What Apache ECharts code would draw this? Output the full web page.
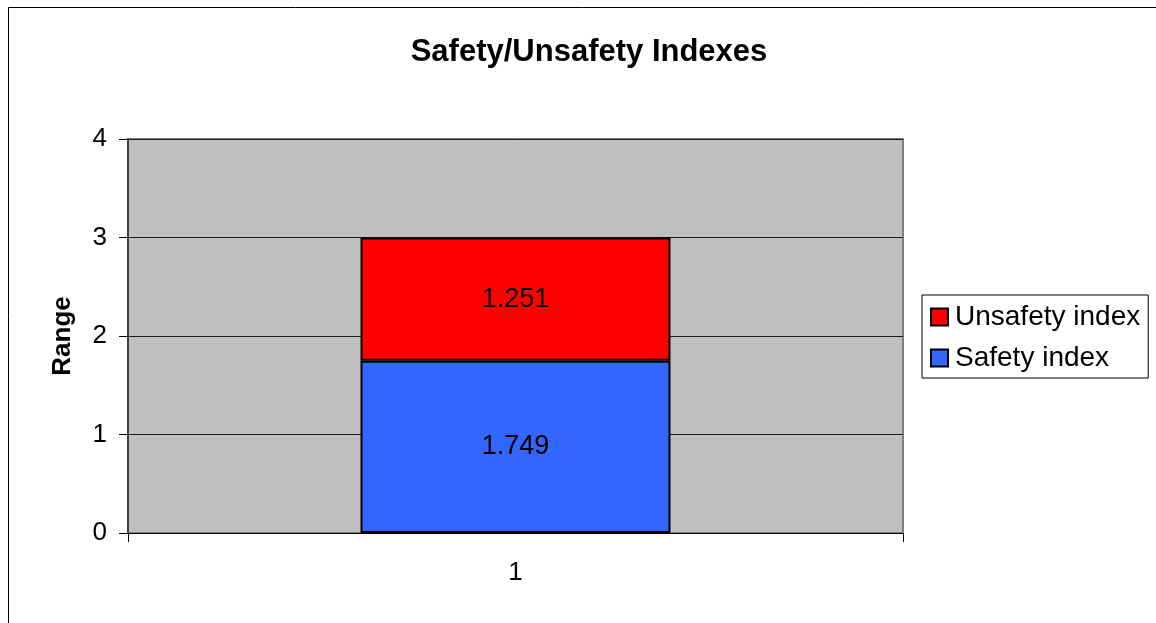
<!DOCTYPE html>
<html>
<head>
<meta charset="utf-8">
<style>
  html, body { margin: 0; padding: 0; background: #ffffff; }
  #chart { width: 1156px; height: 623px; }
</style>
<script src="https://cdn.jsdelivr.net/npm/echarts@6/dist/echarts.min.js"></script>
</head>
<body>
<div id="chart"></div>
<script>
// Stacked index values for the single case
const categories = ['1'];
const safetyValues = [1.749];
const unsafetyValues = [1.251];
const yTicks = [0, 1, 2, 3, 4];

const FONT = '"Liberation Sans", Arial, sans-serif';

const chart = echarts.init(document.getElementById('chart'), null, { renderer: 'canvas' });

const labelStyle = {
  show: true,
  position: 'inside',
  color: '#000',
  fontFamily: FONT,
  fontSize: 27,
  formatter: p => p.value.toFixed(3)
};

chart.setOption({
  animation: false,
  backgroundColor: '#ffffff',
  title: {
    text: 'Safety/Unsafety Indexes',
    left: 584,
    top: 32,
    textAlign: 'center',
    textStyle: { fontFamily: FONT, fontSize: 31, fontWeight: 'bold', color: '#000' }
  },
  graphic: [{
    type: 'rect',
    shape: { x: 8.5, y: 7.5, width: 1300, height: 800 },
    style: { fill: null, stroke: '#000', lineWidth: 1 },
    silent: true,
    z: -10
  }],
  legend: {
    orient: 'vertical',
    left: 922,
    top: 295,
    data: ['Unsafety index', 'Safety index'],
    icon: 'rect',
    itemWidth: 17,
    itemHeight: 17,
    itemGap: 13,
    padding: [8, 8, 6, 8],
    backgroundColor: '#ffffff',
    borderColor: '#000',
    borderWidth: 1,
    borderRadius: 0,
    textStyle: { fontFamily: FONT, fontSize: 28, color: '#000', lineHeight: 27, padding: [0, 0, 0, 2] }
  },
  grid: {
    left: 128,
    right: 253,
    top: 139,
    bottom: 90,
    show: true,
    backgroundColor: '#c0c0c0',
    borderColor: '#808080',
    borderWidth: 2
  },
  xAxis: {
    type: 'category',
    data: categories,
    boundaryGap: true,
    axisLine: { show: true, lineStyle: { color: '#000', width: 1 } },
    axisTick: { show: true, length: 9, lineStyle: { color: '#000' } },
    axisLabel: { fontFamily: FONT, fontSize: 26, color: '#000', margin: 27 }
  },
  yAxis: {
    type: 'value',
    min: yTicks[0],
    max: yTicks[yTicks.length - 1],
    interval: 1,
    name: 'Range',
    nameLocation: 'middle',
    nameGap: 52,
    nameRotate: 90,
    nameTextStyle: { fontFamily: FONT, fontSize: 26, fontWeight: 'bold', color: '#000' },
    axisLine: { show: true, lineStyle: { color: '#404040', width: 2 } },
    axisTick: { show: true, length: 9, lineStyle: { color: '#000' } },
    axisLabel: { fontFamily: FONT, fontSize: 26, color: '#000', margin: 21 },
    splitLine: { show: true, lineStyle: { color: '#1a1a1a', width: 1 } }
  },
  series: [
    {
      name: 'Safety index',
      type: 'bar',
      stack: 'idx',
      data: safetyValues,
      barWidth: '40%',
      itemStyle: { color: '#3366ff', borderColor: '#000', borderWidth: 2 },
      label: labelStyle
    },
    {
      name: 'Unsafety index',
      type: 'bar',
      stack: 'idx',
      data: unsafetyValues,
      barWidth: '40%',
      itemStyle: { color: '#ff0000', borderColor: '#000', borderWidth: 2 },
      label: labelStyle
    }
  ]
});
</script>
</body>
</html>
